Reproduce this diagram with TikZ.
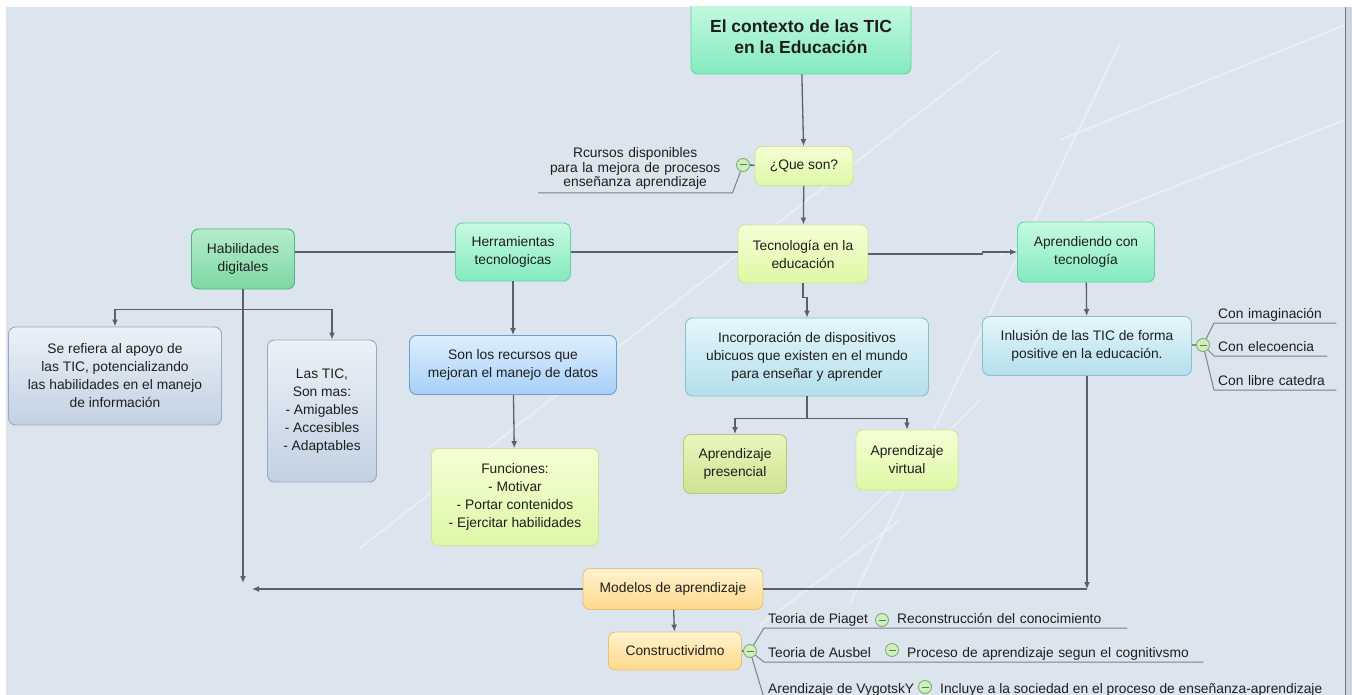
\documentclass[tikz,border=0pt]{standalone}
\usepackage{fontspec}
\setmainfont{Liberation Sans}
\usetikzlibrary{arrows.meta}

\definecolor{bgblue}{HTML}{DCE5EE}
\definecolor{edgegray}{HTML}{CDD5DE}
\definecolor{framegray}{HTML}{6E7782}
\definecolor{linegray}{HTML}{58606A}
\definecolor{leafgray}{HTML}{7A8189}
\definecolor{textdark}{HTML}{1E1E1E}
\definecolor{greentop}{HTML}{C6FAE1}
\definecolor{greenbot}{HTML}{84EABF}
\definecolor{greenedge}{HTML}{68D19E}
\definecolor{habiltop}{HTML}{B6EDCA}
\definecolor{habilbot}{HTML}{7CD7A4}
\definecolor{habiledge}{HTML}{52B383}
\definecolor{yellowtop}{HTML}{F5FFD4}
\definecolor{yellowbot}{HTML}{DDF8A6}
\definecolor{yellowedge}{HTML}{CBE69A}
\definecolor{olivetop}{HTML}{EAF6BC}
\definecolor{olivebot}{HTML}{CDE392}
\definecolor{oliveedge}{HTML}{B2CA7A}
\definecolor{bluetop}{HTML}{DDEEFF}
\definecolor{bluebot}{HTML}{A7D0F7}
\definecolor{blueedge}{HTML}{6C9ED6}
\definecolor{tealtop}{HTML}{E5F6FB}
\definecolor{tealbot}{HTML}{B3DFEB}
\definecolor{tealedge}{HTML}{8ABECE}
\definecolor{graytop}{HTML}{ECF1F7}
\definecolor{graybot}{HTML}{C2D1E3}
\definecolor{grayedge}{HTML}{99A9C1}
\definecolor{orangetop}{HTML}{FFF3CF}
\definecolor{orangebot}{HTML}{FFD98B}
\definecolor{orangeedge}{HTML}{EAC176}
\definecolor{iconfill}{HTML}{CFEFC0}
\definecolor{iconedge}{HTML}{7DB06C}
\definecolor{icondark}{HTML}{4E8A3E}

\tikzset{
  topic/.style={draw, rounded corners=7pt, align=center, inner sep=0pt, line width=0.9pt,
    text=textdark, font=\fontsize{13.8}{18}\selectfont},
  greentopic/.style={topic, draw=greenedge, top color=greentop, bottom color=greenbot},
  habiltopic/.style={topic, draw=habiledge, top color=habiltop, bottom color=habilbot},
  yellowtopic/.style={topic, draw=yellowedge, top color=yellowtop, bottom color=yellowbot},
  olivetopic/.style={topic, draw=oliveedge, top color=olivetop, bottom color=olivebot},
  bluetopic/.style={topic, draw=blueedge, top color=bluetop, bottom color=bluebot},
  tealtopic/.style={topic, draw=tealedge, top color=tealtop, bottom color=tealbot},
  graytopic/.style={topic, draw=grayedge, top color=graytop, bottom color=graybot},
  orangetopic/.style={topic, draw=orangeedge, top color=orangetop, bottom color=orangebot},
  leaf/.style={anchor=south west, inner xsep=4pt, inner ysep=1.5pt, text height=10pt, text depth=3pt,
    align=left, text=textdark, font=\fontsize{13.8}{18}\selectfont},
  minusicon/.style={circle, draw=iconedge, fill=iconfill, minimum size=13pt, inner sep=0pt, line width=0.9pt,
    path picture={\draw[icondark, line width=1pt] ([xshift=-3.5pt]path picture bounding box.center)
      -- ([xshift=3.5pt]path picture bounding box.center);}},
  link/.style={draw=linegray, line width=1.3pt},
  arrowlink/.style={link, -{Latex[length=7pt,width=6pt]}},
  thinlink/.style={draw=leafgray, line width=1pt},
  ray/.style={white, opacity=0.35, line width=2pt},
}

\begin{document}
\begin{tikzpicture}[x=1pt,y=-1pt]
\useasboundingbox (0,0) rectangle (1352,695);
\fill[white] (0,0) rectangle (1352,695);
\fill[bgblue] (6,7) rectangle (1345,695);
\fill[edgegray] (1346,7) rectangle (1352,695);
\draw[framegray, line width=1.2pt] (1345.5,7) -- (1345.5,695);

\begin{scope}
\clip (6,7) rectangle (1345,695);
% light rays of the background
\foreach \xa/\ya/\xb/\yb in {360/548/1000/50, 850/603/1120/44, 760/625/900/520, 840/540/980/400, 1000/255/1345/120, 1060/140/1345/25}
  \draw[ray] (\xa,\ya) -- (\xb,\yb);

% main topics
\node[greentopic, minimum width=220pt, minimum height=74pt, font=\fontsize{17.5}{21}\bfseries] (title) at (801,37) {El contexto de las TIC\\en la Educación};
\node[yellowtopic, minimum width=98pt, minimum height=39pt] (queson) at (804,166) {¿Que son?};
\node[habiltopic, minimum width=103pt, minimum height=60pt] (habil) at (243,259) {Habilidades\\digitales};
\node[greentopic, minimum width=115pt, minimum height=58pt] (herram) at (513,252) {Herramientas\\tecnologicas};
\node[yellowtopic, minimum width=130pt, minimum height=58pt] (tecno) at (803,254) {Tecnología en la\\educación};
\node[greentopic, minimum width=137pt, minimum height=60pt] (aprend) at (1086,252) {Aprendiendo con\\tecnología};

% subtopics
\node[graytopic, minimum width=213pt, minimum height=98pt] (serefiera) at (115,376) {Se refiera al apoyo de\\las TIC, potencializando\\las habilidades en el manejo\\de información};
\node[graytopic, minimum width=109pt, minimum height=142pt] (lastic) at (322,411) {Las TIC,\\Son mas:\\- Amigables\\- Accesibles\\- Adaptables};
\node[bluetopic, minimum width=207pt, minimum height=59pt] (son) at (513,365) {Son los recursos que\\mejoran el manejo de datos};
\node[yellowtopic, minimum width=167pt, minimum height=97pt] (func) at (515,497) {Funciones:\\- Motivar\\- Portar contenidos\\- Ejercitar habilidades};
\node[tealtopic, minimum width=243pt, minimum height=78pt] (incorp) at (807,357) {Incorporación de dispositivos\\ubicuos que existen en el mundo\\para enseñar y aprender};
\node[olivetopic, minimum width=103pt, minimum height=59pt] (pres) at (735,464) {Aprendizaje\\presencial};
\node[yellowtopic, minimum width=102pt, minimum height=60pt] (virt) at (907,460) {Aprendizaje\\virtual};
\node[tealtopic, minimum width=209pt, minimum height=59pt] (inlus) at (1087,346) {Inlusión de las TIC de forma\\positive en la educación.};
\node[orangetopic, minimum width=180pt, minimum height=41pt] (mod) at (673,589) {Modelos de aprendizaje};
\node[orangetopic, minimum width=133pt, minimum height=38pt] (const) at (675,651) {Constructividmo};

\coordinate (habilend) at (243,583);
\coordinate (modleft) at (252,589);
\coordinate (modright) at (1087,589);

% connectors
\draw[arrowlink] (title) -- (queson);
\draw[arrowlink] (queson) -- (tecno);
\draw[link] (habil.east |- herram.west) -- (herram.west);
\draw[link] (herram.east) -- (herram.east -| tecno.west);
\draw[arrowlink] (tecno.east) -- ++(114,0) |- (aprend.west);
\draw[arrowlink] (habil) -- (habilend);
\draw[arrowlink] (habil.south) ++(0,20) -| (serefiera.north);
\draw[arrowlink] (habil.south) ++(0,20) -| ([xshift=10pt]lastic.north);
\draw[arrowlink] (herram) -- (son);
\draw[arrowlink] (son) -- (func);
\draw[arrowlink] (tecno.south) -- ++(0,14) -| (incorp.north);
\draw[arrowlink] (incorp.south) -- ++(0,22) -| (pres.north);
\draw[arrowlink] (incorp.south) -- ++(0,22) -| (virt.north);
\draw[arrowlink] (aprend) -- (inlus);
\draw[arrowlink] (mod) -- (modleft);
\draw[link] (mod) -- (modright);
\draw[arrowlink] (inlus) -- (modright);
\draw[arrowlink] (mod) -- (const);

% leaf notes
\node[minusicon] (qc) at (743,165) {};
\node[leaf, align=center, text width=186pt, inner ysep=3pt, text height=, text depth=, font=\fontsize{13.8}{14.7}\selectfont] (recursos) at (538,193) {Rcursos disponibles\\para la mejora de procesos\\enseñanza aprendizaje};
\draw[link] (qc) -- (queson);
\draw[thinlink] (qc) -- (recursos.south east) -- (recursos.south west);

\node[minusicon] (ic) at (1203,345) {};
\node[leaf, text width=114pt] (imag) at (1214,323) {Con imaginación};
\node[leaf, text width=105pt] (elec) at (1214,356) {Con elecoencia};
\node[leaf, text width=114pt] (libre) at (1214,390) {Con libre catedra};
\draw[link] (inlus) -- (ic);
\draw[thinlink] (ic) -- (imag.south west) -- (imag.south east);
\draw[thinlink] (ic) -- (elec.south west) -- (elec.south east);
\draw[thinlink] (ic) -- (libre.south west) -- (libre.south east);

\node[minusicon] (cc) at (750,651) {};
\node[leaf] (piaget) at (764,628) {Teoria de Piaget};
\node[minusicon] (pc) at (882,620) {};
\node[leaf, text width=226pt] (recon) at (893,628) {Reconstrucción del conocimiento};
\node[leaf] (ausbel) at (764,662) {Teoria de Ausbel};
\node[minusicon] (ac) at (892,650) {};
\node[leaf, text width=292pt] (proceso) at (903,662) {Proceso de aprendizaje segun el cognitivsmo};
\node[leaf] (vygot) at (764,698) {Arendizaje de VygotskY};
\node[minusicon] (vc) at (925,687) {};
\node[leaf] (incluye) at (936,698) {Incluye a la sociedad en el proceso de enseñanza-aprendizaje};
\draw[link] (const) -- (cc);
\draw[thinlink] (cc) -- (piaget.south west) -- (recon.south east);
\draw[thinlink] (cc) -- (ausbel.south west) -- (proceso.south east);
\draw[thinlink] (cc) -- (vygot.south west) -- (incluye.south east);
\end{scope}
\end{tikzpicture}
\end{document}
